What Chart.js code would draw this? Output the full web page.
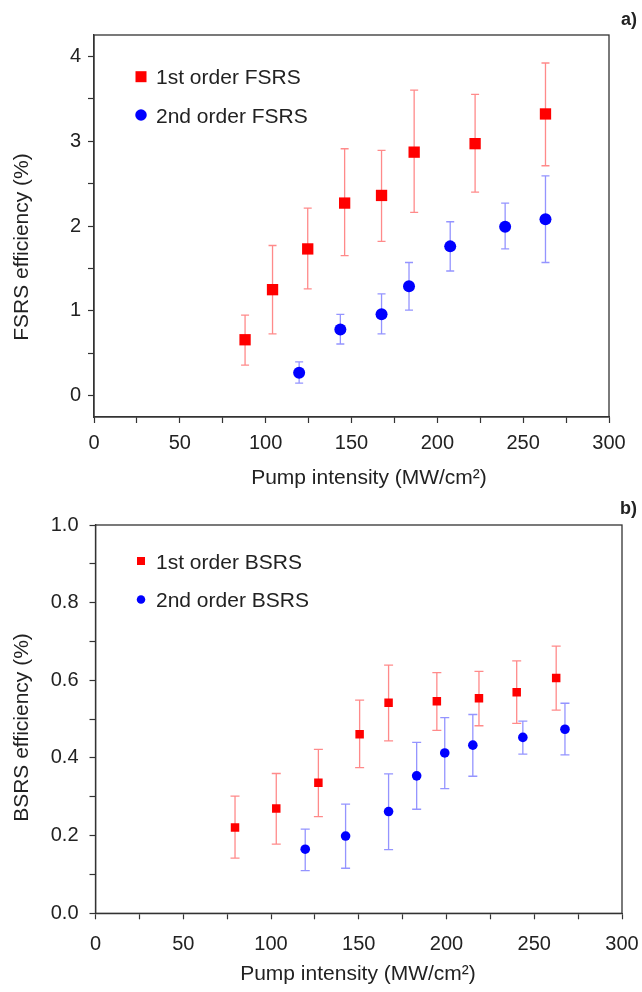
<!DOCTYPE html>
<html>
<head>
<meta charset="utf-8">
<script src="https://cdn.jsdelivr.net/npm/chart.js@4.4.1/dist/chart.umd.min.js"></script>
<style>
  body { margin: 0; background: #fff; }
  .panel { position: absolute; left: 0; width: 642px; }
  #panelA { top: 0; height: 495px; }
  #panelB { top: 495px; height: 497px; }
</style>
</head>
<body>
<div class="panel" id="panelA"><canvas id="fsrsChart"></canvas></div>
<div class="panel" id="panelB"><canvas id="bsrsChart"></canvas></div>
<script>
// panel a) forward SRS
const fsrs1X  = [88, 104, 124.5, 146, 167.5, 186.5, 222, 263];
const fsrs1Y  = [0.66, 1.25, 1.73, 2.27, 2.36, 2.87, 2.97, 3.32];
const fsrs1Hi = [0.95, 1.77, 2.21, 2.91, 2.89, 3.60, 3.55, 3.92];
const fsrs1Lo = [0.36, 0.73, 1.26, 1.65, 1.82, 2.16, 2.40, 2.71];

const fsrs2X  = [119.5, 143.5, 167.5, 183.5, 207.5, 239.5, 263];
const fsrs2Y  = [0.27, 0.78, 0.96, 1.29, 1.76, 1.99, 2.08];
const fsrs2Hi = [0.40, 0.96, 1.20, 1.57, 2.05, 2.27, 2.59];
const fsrs2Lo = [0.15, 0.61, 0.73, 1.01, 1.47, 1.73, 1.57];

// panel b) backward SRS
const bsrs1X  = [79.5, 103, 127, 150.5, 167, 194.5, 218.5, 240, 262.5];
const bsrs1Y  = [0.221, 0.270, 0.336, 0.461, 0.542, 0.546, 0.554, 0.569, 0.606];
const bsrs1Hi = [0.302, 0.360, 0.422, 0.549, 0.639, 0.620, 0.623, 0.650, 0.688];
const bsrs1Lo = [0.142, 0.178, 0.249, 0.375, 0.444, 0.471, 0.483, 0.489, 0.523];

const bsrs2X  = [119.5, 142.5, 167, 183, 199, 215, 243.5, 267.5];
const bsrs2Y  = [0.165, 0.199, 0.262, 0.354, 0.413, 0.433, 0.453, 0.474];
const bsrs2Hi = [0.217, 0.281, 0.359, 0.440, 0.504, 0.512, 0.495, 0.541];
const bsrs2Lo = [0.110, 0.116, 0.164, 0.268, 0.321, 0.353, 0.410, 0.408];

// tick positions (labels only on the major ones)
const xTicks = [0, 25, 50, 75, 100, 125, 150, 175, 200, 225, 250, 275, 300];
const yTicksA = [0, 0.5, 1, 1.5, 2, 2.5, 3, 3.5, 4];
const yTicksB = [0, 0.1, 0.2, 0.3, 0.4, 0.5, 0.6, 0.7, 0.8, 0.9, 1.0];

const FONT = '"Liberation Sans", Arial, sans-serif';
const INK = '#222';
const AXIS = '#333';

function points(xs, ys, lo, hi) {
  return xs.map((x, i) => ({ x: x, y: ys[i], yMin: lo[i], yMax: hi[i] }));
}

// vertical error bars with caps, drawn under the markers
const errorBars = {
  id: 'errorBars',
  beforeDatasetsDraw(chart) {
    const ctx = chart.ctx;
    const xs = chart.scales.x, ys = chart.scales.y;
    chart.data.datasets.forEach(ds => {
      ctx.save();
      ctx.strokeStyle = ds.errorColor;
      ctx.lineWidth = 1.3;
      ds.data.forEach(p => {
        const px = xs.getPixelForValue(p.x);
        const top = ys.getPixelForValue(p.yMax);
        const bot = ys.getPixelForValue(p.yMin);
        const c = ds.errorCap;
        ctx.beginPath();
        ctx.moveTo(px, top); ctx.lineTo(px, bot);
        ctx.moveTo(px - c, top); ctx.lineTo(px + c, top);
        ctx.moveTo(px - c, bot); ctx.lineTo(px + c, bot);
        ctx.stroke();
      });
      ctx.restore();
    });
  }
};

// frame, legend inside the plot, axis titles and panel letter
const decor = {
  id: 'decor',
  afterDraw(chart, args, opts) {
    const ctx = chart.ctx;
    const a = chart.chartArea;
    ctx.save();
    ctx.strokeStyle = AXIS;
    ctx.lineWidth = 1.3;
    ctx.strokeRect(a.left, a.top, a.right - a.left, a.bottom - a.top);

    ctx.fillStyle = INK;
    ctx.font = '21px ' + FONT;
    ctx.textBaseline = 'alphabetic';
    opts.legend.forEach((item, i) => {
      const ds = chart.data.datasets[i];
      ctx.fillStyle = ds.backgroundColor;
      const s = item.size;
      if (item.shape === 'rect') {
        ctx.fillRect(item.x - s / 2, item.y - s / 2, s, s);
      } else {
        ctx.beginPath();
        ctx.arc(item.x, item.y, s / 2, 0, Math.PI * 2);
        ctx.fill();
      }
      ctx.fillStyle = INK;
      ctx.textAlign = 'left';
      ctx.fillText(ds.label, item.x + 15, item.y + 7.5);
    });

    ctx.textAlign = 'center';
    ctx.fillText(opts.xTitle.text, opts.xTitle.x, opts.xTitle.y + 7.5);

    ctx.save();
    ctx.translate(opts.yTitle.x, opts.yTitle.y);
    ctx.rotate(-Math.PI / 2);
    ctx.fillText(opts.yTitle.text, 0, 7.5);
    ctx.restore();

    ctx.font = 'bold 18px ' + FONT;
    ctx.textAlign = 'right';
    ctx.fillText(opts.tag.text, 637, opts.tag.y);
    ctx.restore();
  }
};

function makeChart(id, cfg) {
  return new Chart(document.getElementById(id), {
    type: 'scatter',
    data: { datasets: cfg.datasets },
    options: {
      responsive: true,
      maintainAspectRatio: false,
      animation: false,
      layout: { padding: cfg.padding },
      plugins: {
        legend: { display: false },
        tooltip: { enabled: false },
        decor: cfg.decor
      },
      scales: {
        x: {
          type: 'linear',
          min: 0,
          max: 300,
          afterBuildTicks: axis => { axis.ticks = xTicks.map(v => ({ value: v })); },
          afterFit: s => {
            s.height = cfg.xHeight;
            // labels may hang over the layout padding; keep the plot edges fixed
            s.paddingLeft = 0;
            s.paddingRight = 0;
          },
          ticks: {
            autoSkip: false,
            maxRotation: 0,
            padding: cfg.xPad,
            color: INK,
            font: { family: FONT, size: 20 },
            callback: v => (v % 50 === 0 ? v : '')
          },
          grid: { drawOnChartArea: false, tickLength: 6, color: AXIS, tickWidth: 1.2 },
          border: { color: AXIS, width: 1.3 }
        },
        y: {
          type: 'linear',
          min: cfg.yMin,
          max: cfg.yMax,
          afterBuildTicks: axis => { axis.ticks = cfg.yTicks.map(v => ({ value: v })); },
          afterFit: s => {
            s.width = cfg.yWidth;
            s.paddingTop = 0;
            s.paddingBottom = 0;
          },
          ticks: {
            autoSkip: false,
            padding: cfg.yPad,
            color: INK,
            font: { family: FONT, size: 20 },
            callback: cfg.yLabel
          },
          grid: { drawOnChartArea: false, tickLength: 6, color: AXIS, tickWidth: 1.2 },
          border: { color: AXIS, width: 1.3 }
        }
      }
    },
    plugins: [errorBars, decor]
  });
}

makeChart('fsrsChart', {
  padding: { left: 0, right: 33, top: 35, bottom: 0 },
  xHeight: 78, yWidth: 94, xPad: 8, yPad: 7,
  yMin: -0.25, yMax: 4.25, yTicks: yTicksA,
  yLabel: v => (Number.isInteger(v) ? v : ''),
  datasets: [
    {
      label: '1st order FSRS',
      data: points(fsrs1X, fsrs1Y, fsrs1Lo, fsrs1Hi),
      pointStyle: 'rect', pointRadius: 8, borderWidth: 0,
      backgroundColor: '#ff0000', errorColor: 'rgba(255,60,60,0.6)', errorCap: 4
    },
    {
      label: '2nd order FSRS',
      data: points(fsrs2X, fsrs2Y, fsrs2Lo, fsrs2Hi),
      pointStyle: 'circle', pointRadius: 6, borderWidth: 0,
      backgroundColor: '#0000ff', errorColor: 'rgba(60,60,255,0.55)', errorCap: 4
    }
  ],
  decor: {
    legend: [
      { shape: 'rect', x: 141, y: 76.7, size: 11 },
      { shape: 'circle', x: 141, y: 115, size: 11.5 }
    ],
    xTitle: { text: 'Pump intensity (MW/cm²)', x: 369, y: 476 },
    yTitle: { text: 'FSRS efficiency (%)', x: 20, y: 247 },
    tag: { text: 'a)', y: 25 }
  }
});

makeChart('bsrsChart', {
  padding: { left: 0, right: 20, top: 30, bottom: 0 },
  xHeight: 78.7, yWidth: 95.5, xPad: 13, yPad: 11,
  yMin: 0, yMax: 1.0, yTicks: yTicksB,
  yLabel: v => (Math.round(v * 10) % 2 === 0 ? v.toFixed(1) : ''),
  datasets: [
    {
      label: '1st order BSRS',
      data: points(bsrs1X, bsrs1Y, bsrs1Lo, bsrs1Hi),
      pointStyle: 'rect', pointRadius: 6, borderWidth: 0,
      backgroundColor: '#ff0000', errorColor: 'rgba(255,60,60,0.6)', errorCap: 4.5
    },
    {
      label: '2nd order BSRS',
      data: points(bsrs2X, bsrs2Y, bsrs2Lo, bsrs2Hi),
      pointStyle: 'circle', pointRadius: 4.8, borderWidth: 0,
      backgroundColor: '#0000ff', errorColor: 'rgba(60,60,255,0.55)', errorCap: 4.5
    }
  ],
  decor: {
    legend: [
      { shape: 'rect', x: 141, y: 66, size: 8 },
      { shape: 'circle', x: 141, y: 104.5, size: 8.5 }
    ],
    xTitle: { text: 'Pump intensity (MW/cm²)', x: 358, y: 477 },
    yTitle: { text: 'BSRS efficiency (%)', x: 20.7, y: 232.5 },
    tag: { text: 'b)', y: 19 }
  }
});
</script>
</body>
</html>
